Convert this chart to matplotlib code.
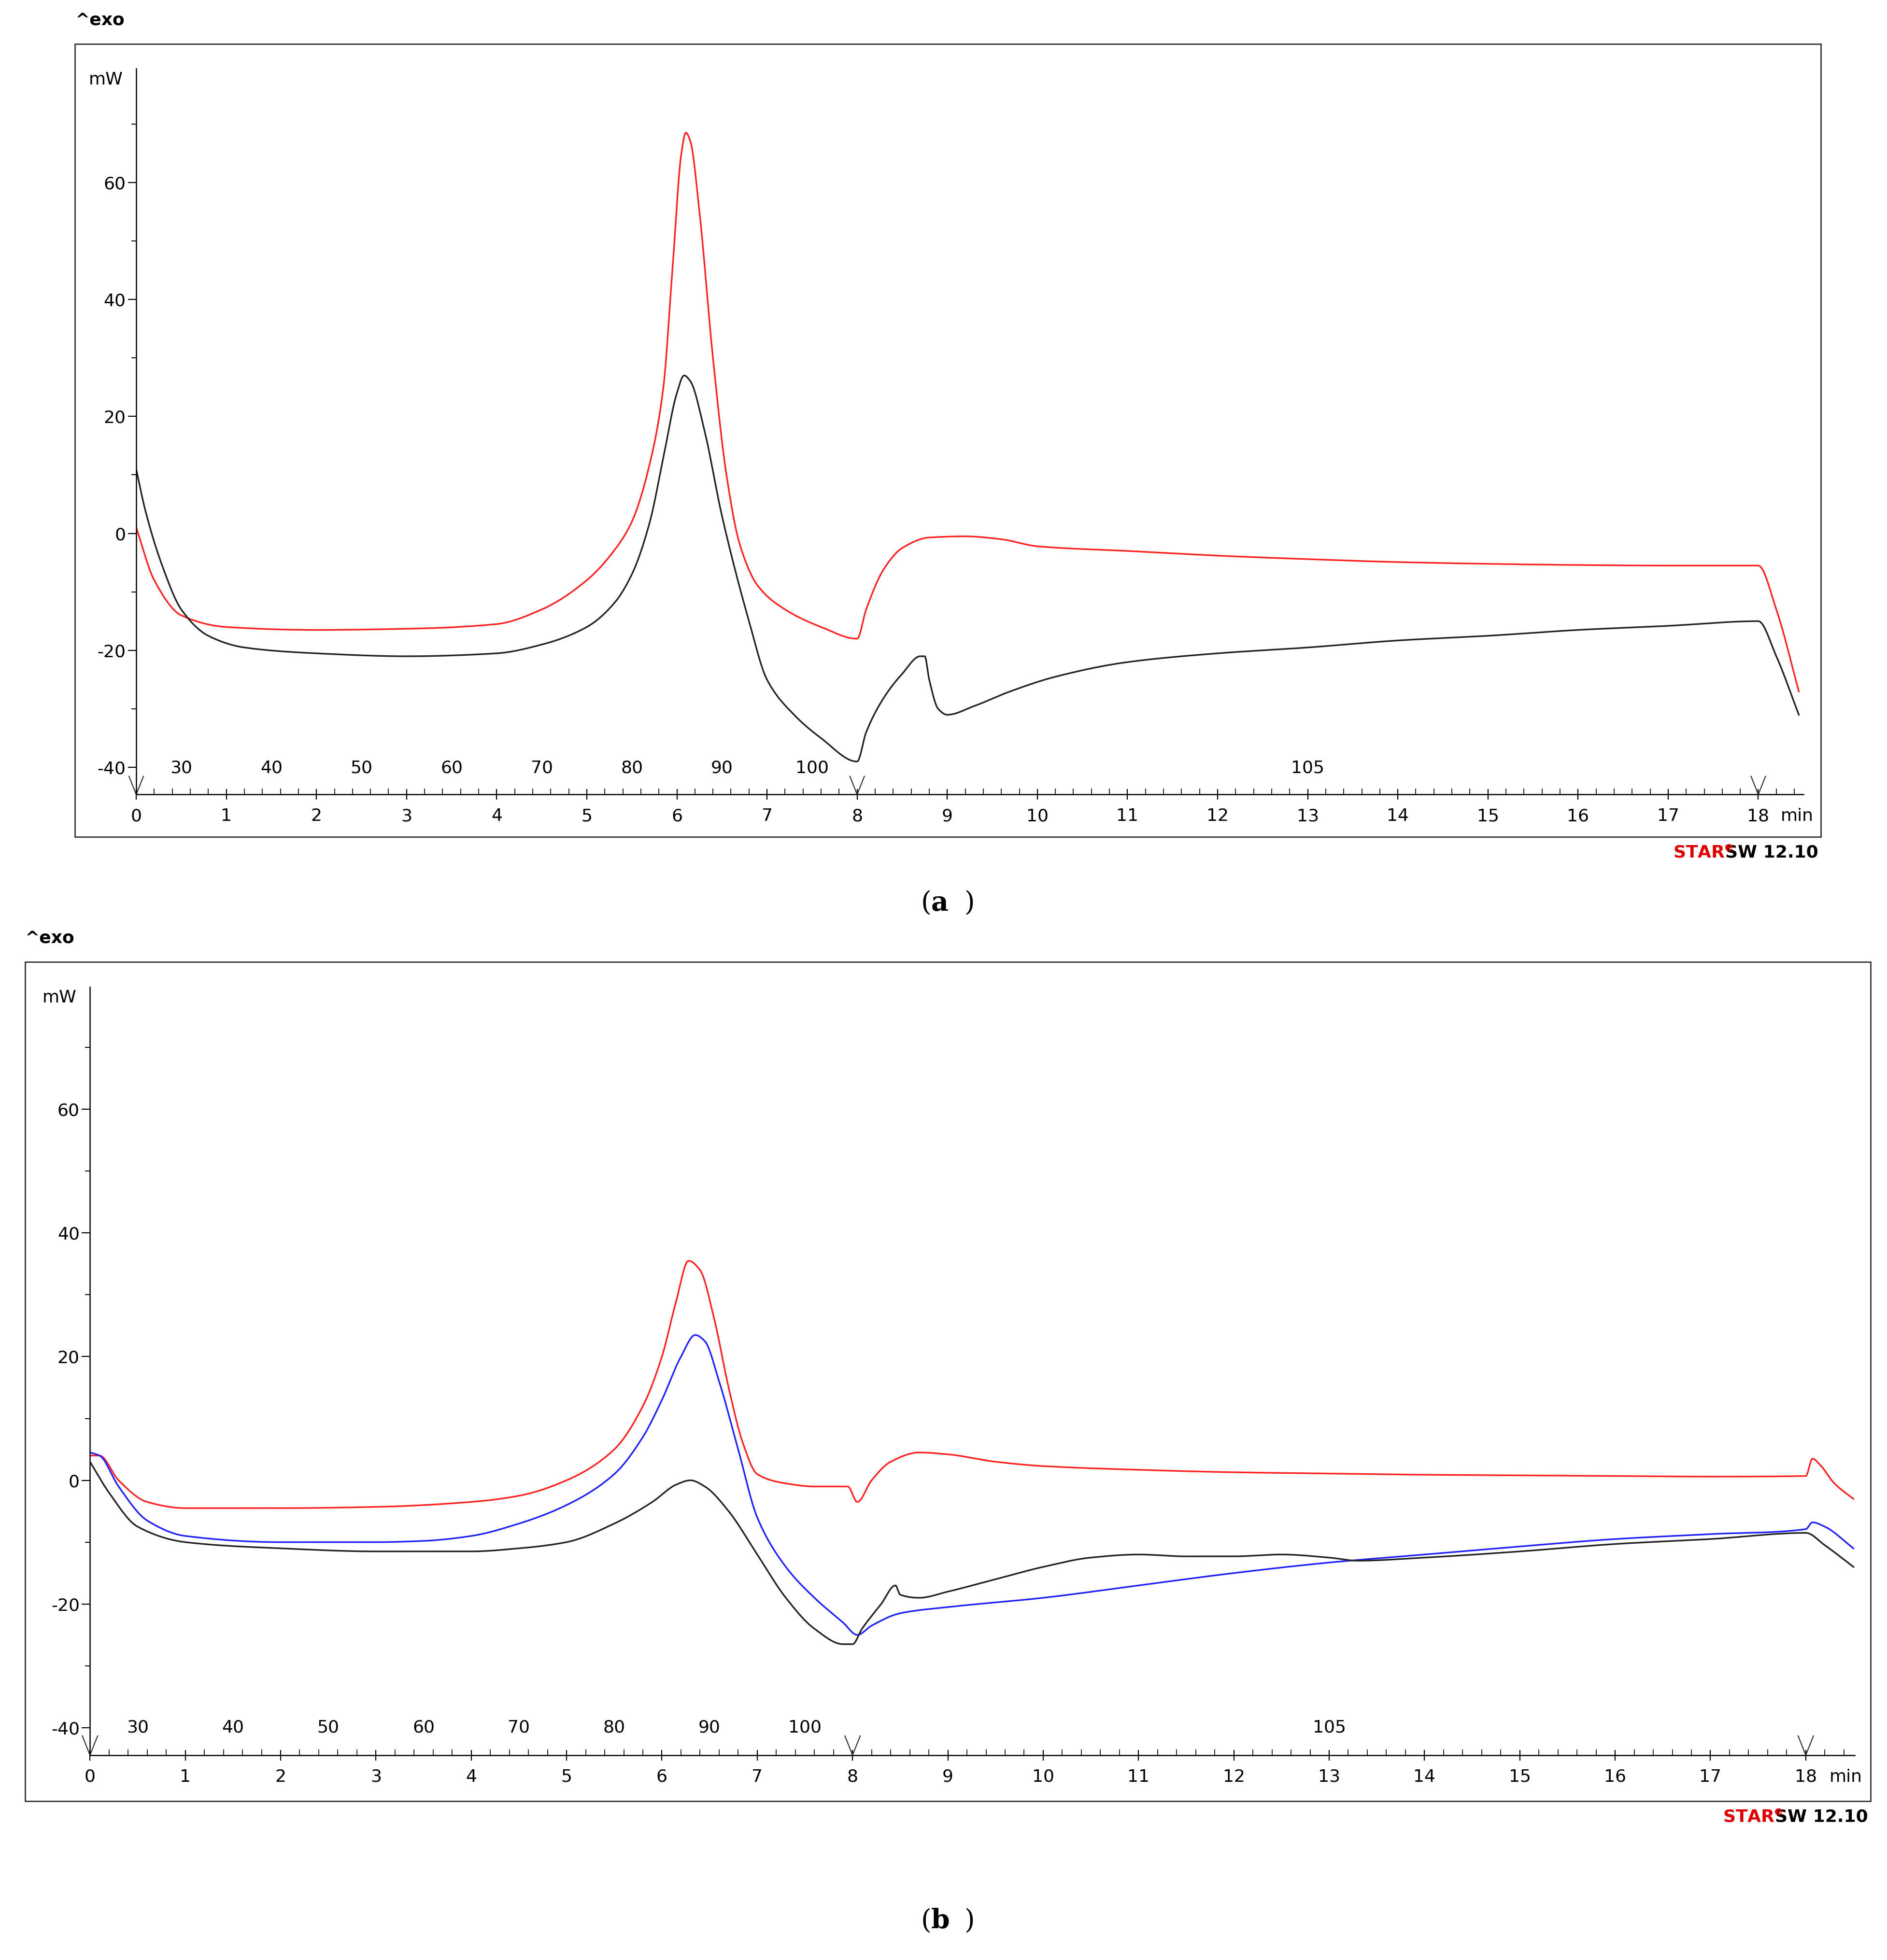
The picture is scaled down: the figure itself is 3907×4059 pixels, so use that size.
import matplotlib
matplotlib.use("Agg")
import matplotlib.pyplot as plt
from matplotlib.patches import Rectangle
import numpy as np

W, H = 1510.0, 1569.0
def fx(x): return x / W
def fy(y): return 1 - y / H

# ---------- data ----------
a_red_t = [0,0.2,0.5,1,2,3,4,4.5,5,5.3,5.5,5.7,5.85,5.95,6.05,6.1,6.15,6.25,6.4,6.55,6.7,6.9,7.2,7.6,8.0,8.1,8.3,8.5,8.8,9.2,9.6,10,11,12,13,14,15,16,17,18,18.2,18.45]
a_red_v = [1,-8,-14,-16,-16.5,-16.3,-15.5,-13,-8,-3,2,12,25,45,65,68.5,67,55,30,10,-2,-9,-13,-16,-18,-13,-6,-2.5,-0.7,-0.5,-1,-2.2,-3,-3.8,-4.4,-4.9,-5.2,-5.4,-5.5,-5.5,-13,-27]
a_blk_t = [0,0.1,0.3,0.5,0.8,1.2,2,3,4,4.5,5,5.3,5.5,5.7,5.85,6,6.08,6.15,6.3,6.5,6.8,7.0,7.3,7.6,8.0,8.1,8.3,8.5,8.7,8.75,8.8,8.9,9.0,9.3,9.7,10.2,11,12,13,14,15,16,17,18,18.2,18.45]
a_blk_v = [11,4,-6,-13,-17.5,-19.5,-20.5,-21,-20.5,-19,-16,-12,-7,2,13,24,27,26,18,3,-15,-25,-31,-35,-39,-34,-28,-24,-21,-21,-25,-30,-31,-29.5,-27,-24.5,-22,-20.5,-19.5,-18.3,-17.5,-16.5,-15.8,-15,-21,-31]

b_red_t = [0,0.1,0.3,0.6,1,2,3,4,4.5,5,5.5,5.8,6,6.15,6.28,6.4,6.55,6.7,6.85,7.0,7.3,7.6,7.95,8.05,8.2,8.4,8.7,9,9.5,10,11,12,13,14,15,16,17,18,18.07,18.15,18.3,18.5]
b_red_v = [4,4,0,-3.5,-4.5,-4.5,-4.3,-3.5,-2.5,0,5,12,20,29,35.5,34,26,15,6,1,-0.5,-1,-1,-3.5,0,3,4.5,4.2,3,2.3,1.7,1.3,1.1,0.9,0.8,0.7,0.6,0.7,3.5,2.5,-0.5,-3]
b_blu_t = [0,0.1,0.3,0.6,1,2,3,3.5,4,4.5,5,5.5,5.8,6,6.2,6.35,6.45,6.6,6.8,7,7.3,7.6,7.9,8.05,8.2,8.5,9,10,11,12,13,14,15,16,17,18,18.07,18.2,18.5]
b_blu_v = [4.5,4,-1,-6.5,-9,-10,-10,-9.8,-9,-7,-4,1,7,13,20,23.5,22.5,16,5,-6,-14,-19,-23,-25,-23.5,-21.5,-20.5,-19,-17,-15,-13.3,-12,-10.7,-9.5,-8.7,-7.9,-6.8,-7.5,-11]
b_blk_t = [0,0.2,0.5,1,2,3,4,4.5,5,5.5,5.9,6.15,6.3,6.45,6.7,7,7.3,7.6,7.9,8.0,8.1,8.3,8.45,8.5,8.7,9,9.5,10,10.5,11,11.5,12,12.5,13,13.3,14,15,16,17,18,18.2,18.5]
b_blk_v = [3,-2,-7.5,-10,-11,-11.5,-11.5,-11,-10,-7,-3.5,-0.7,0,-1,-5,-12,-19,-24,-26.5,-26.5,-24,-20,-17,-18.5,-19,-18,-16,-14,-12.5,-12,-12.3,-12.3,-12,-12.5,-13,-12.5,-11.5,-10.3,-9.5,-8.5,-10.5,-14]

temp_labels = ["30","40","50","60","70","80","90","100"]
temp_pos = [0.5,1.5,2.5,3.5,4.5,5.5,6.5,7.5]
time_ticks = list(range(0, 19))
y_ticks = [-40, -20, 0, 20, 40, 60]


def pchip(x, y, n=20):
    """Shape-preserving cubic rendering of a polyline (for drawing only)."""
    x = np.asarray(x, float); y = np.asarray(y, float)
    h = np.diff(x); d = np.diff(y) / h
    m = np.zeros_like(y)
    for k in range(1, len(x) - 1):
        if d[k - 1] * d[k] > 0:
            w1 = 2 * h[k] + h[k - 1]; w2 = h[k] + 2 * h[k - 1]
            m[k] = (w1 + w2) / (w1 / d[k - 1] + w2 / d[k])
    m[0] = d[0]; m[-1] = d[-1]
    xs, ys = [], []
    for k in range(len(x) - 1):
        t = np.linspace(0, 1, n, endpoint=False)
        h00 = 2*t**3 - 3*t**2 + 1; h10 = t**3 - 2*t**2 + t
        h01 = -2*t**3 + 3*t**2; h11 = t**3 - t**2
        xs.append(x[k] + t * h[k])
        ys.append(h00*y[k] + h10*h[k]*m[k] + h01*y[k+1] + h11*h[k]*m[k+1])
    xs.append([x[-1]]); ys.append([y[-1]])
    return np.concatenate(xs), np.concatenate(ys)


fig = plt.figure(figsize=(39.07, 40.59), dpi=100)
FS = 26

def panel(box, x0, x18, xend, yaxis, ytop, y0pix, pxper, curves, label, ly, iso_t):
    bx0, by0, bx1, by1 = box
    fig.patches.append(Rectangle((fx(bx0), fy(by1)), fx(bx1) - fx(bx0), fy(by0) - fy(by1),
                                 transform=fig.transFigure, fill=False, ec="#333333", lw=2))
    fig.text(fx(bx0), fy(by0 - 12), "^exo", fontsize=FS, fontweight="bold", va="bottom", ha="left")
    ax = fig.add_axes([fx(x0), fy(yaxis), fx(xend) - fx(x0), fy(ytop) - fy(yaxis)])
    tmax = (xend - x0) / ((x18 - x0) / 18.0)
    ax.set_xlim(0, tmax)
    ax.set_ylim(-(yaxis - y0pix) / pxper, (y0pix - ytop) / pxper)
    for t, v, c in curves:
        xs, ys = pchip(t, v)
        ax.plot(xs, ys, color=c, lw=2.4, solid_joinstyle="round")
    ax.spines["top"].set_visible(False)
    ax.spines["right"].set_visible(False)
    for s in ("left", "bottom"):
        ax.spines[s].set_linewidth(1.8)
    ax.set_yticks(y_ticks)
    ax.set_yticklabels([str(v) for v in y_ticks])
    ax.set_yticks(np.arange(-40, 71, 10), minor=True)
    ax.tick_params(axis="y", which="major", length=12, width=1.6, labelsize=FS, direction="out")
    ax.tick_params(axis="y", which="minor", length=7, width=1.4, direction="out")
    ax.set_xticks(time_ticks)
    ax.set_xticklabels([str(v) for v in time_ticks])
    ax.set_xticks(np.arange(0, tmax, 0.2), minor=True)
    ax.tick_params(axis="x", which="major", length=16, width=1.6, labelsize=FS, direction="inout", pad=12)
    ax.tick_params(axis="x", which="minor", length=9, width=1.2, direction="in")
    ax.annotate("min", xy=(18.25, 0), xycoords=("data", "axes fraction"), xytext=(0, -20),
                textcoords="offset points", fontsize=FS, ha="left", va="top")
    for lab, p in zip(temp_labels, temp_pos):
        ax.text(p, 0.025, lab, transform=ax.get_xaxis_transform(), fontsize=FS, ha="center", va="bottom")
    ax.text(iso_t, 0.025, "105", transform=ax.get_xaxis_transform(), fontsize=FS, ha="center", va="bottom")
    for m in (0, 8, 18):
        ax.plot([m - 0.08, m, m + 0.08], [0.025, 0.0, 0.025], transform=ax.get_xaxis_transform(),
                color="#333333", lw=1.6, clip_on=False)
    ax.annotate("mW", xy=(0, 1), xycoords="axes fraction", xytext=(-20, -4),
                textcoords="offset points", fontsize=FS, ha="right", va="top")
    fig.text(fx(bx1 - 2), fy(by1 + 6), "SW 12.10", fontsize=FS, fontweight="bold", ha="right", va="top")
    fig.text(fx(bx1 - 70), fy(by1 + 6), "STAR$^{\\mathbf{e}}$", fontsize=FS, fontweight="bold",
             ha="right", va="top", color="#e00000")
    fig.text(0.5035, fy(ly), "(a)" if label == "a" else "(b)", fontsize=40, family="DejaVu Serif",
             color="white", ha="center", va="center", alpha=0)
    fig.text(0.4935, fy(ly), "(", fontsize=40, family="DejaVu Serif", ha="right", va="center")
    fig.text(0.4935, fy(ly), label, fontsize=40, family="DejaVu Serif", fontweight="bold", ha="left", va="center")
    fig.text(0.511, fy(ly), ")", fontsize=40, family="DejaVu Serif", ha="left", va="center")

panel((60, 35, 1457, 670), 109, 1407, 1443, 636, 55, 427, 4.683,
      [(a_red_t, a_red_v, "#ff2020"), (a_blk_t, a_blk_v, "#222222")], "a", 723, 13.0)
panel((20, 770, 1497, 1442), 72, 1445, 1484, 1405, 790, 1185, 4.95,
      [(b_red_t, b_red_v, "#ff2020"), (b_blu_t, b_blu_v, "#2020ff"), (b_blk_t, b_blk_v, "#222222")],
      "b", 1538, 13.0)

fig.savefig("out.png", dpi=100)
